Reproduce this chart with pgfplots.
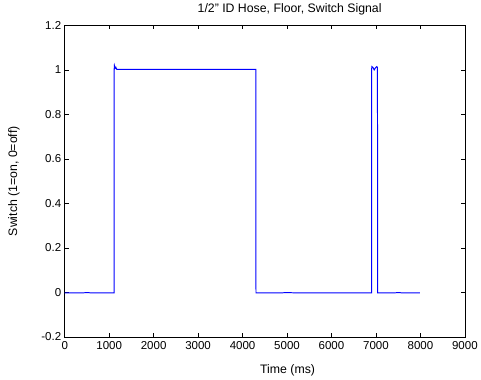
\documentclass[border=0pt]{standalone}
\usepackage{fontspec}
\setmainfont{Liberation Sans}
\usepackage{pgfplots}
\pgfplotsset{compat=1.18}
\begin{document}
\begin{tikzpicture}
\begin{axis}[
  name=ax, at={(0,0)}, anchor=south west,
  scale only axis, width=402bp, height=313bp,
  xmin=0, xmax=9000, ymin=-0.2, ymax=1.2,
  xtick={0,1000,...,9000},
  ytick={-0.2,0,0.2,0.4,0.6,0.8,1,1.2},
  scaled x ticks=false,
  /pgf/number format/1000 sep={},
  /pgf/number format/assume math mode=true,
  tick pos=both, tick align=inside,
  major tick length=4bp,
  axis line style={line width=0.6bp},
  tick style={line width=0.6bp, black},
  ticklabel style={font=\fontsize{11.6}{13}\selectfont},
  label style={font=\fontsize{12.4}{14}\selectfont},
  title style={font=\fontsize{12.4}{14}\selectfont, at={(axis description cs:0.562,1.0335)}, anchor=center},
  title={1/2" ID Hose, Floor, Switch Signal},
  xlabel={Time (ms)},
  ylabel={Switch (1=on, 0=off)},
  xlabel style={at={(axis description cs:0.557,-0.107)}, anchor=center},
  ylabel style={at={(axis description cs:-0.127,0.5)}, anchor=center},
  xticklabel style={yshift=-1bp},
  clip=true,
]
\addplot[color={rgb,255:red,0;green,0;blue,255}, line width=1bp] coordinates {
(0,-0.002) (500,-0.001) (1000,-0.002) (1110,-0.002) (1112,1.0) (1118,1.02) (1135,1.008) (1150,1.012) (1170,1.003) (1300,1.002) (2000,1.003) (3000,1.002) (4000,1.003) (4300,1.002) (4302,-0.002) (5000,-0.001) (6000,-0.002) (6900,-0.002) (6902,1.0) (6908,1.015) (6935,1.01) (6960,1.0) (6990,1.01) (7020,1.015) (7034,1.01) (7036,-0.002) (7500,-0.001) (7990,-0.002)
};
\end{axis}
\path[use as bounding box] (-65bp,-42bp) rectangle (416bp,337bp);
\end{tikzpicture}
\end{document}
